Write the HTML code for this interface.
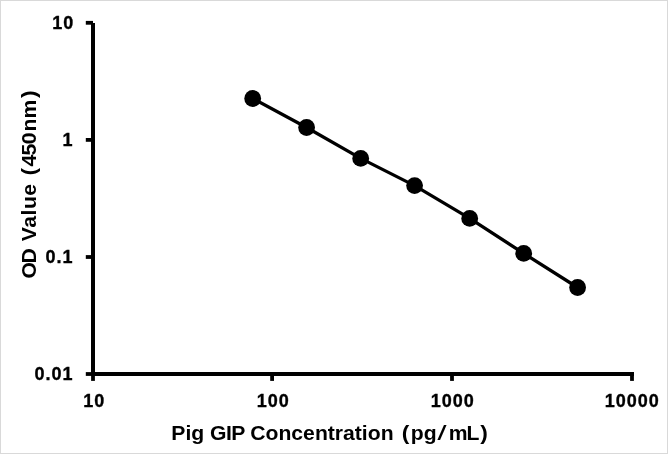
<!DOCTYPE html>
<html lang="en">
<head>
<meta charset="utf-8">
<title>Pig GIP ELISA standard curve</title>
<style>
html,body{margin:0;padding:0;background:#fff;}
body{width:668px;height:454px;overflow:hidden;}
svg{display:block;}
text{font-family:"Liberation Sans",Arial,Helvetica,sans-serif;font-weight:bold;fill:#000;}
.tk{font-size:18px;letter-spacing:1px;stroke:#000;stroke-width:0.35px;}
.tt{font-size:19.5px;}
.pr{font-size:21px;}
.sl{font-size:21px;font-style:italic;}
</style>
</head>
<body>
<svg width="668" height="454" viewBox="0 0 668 454">
  <rect x="0" y="0" width="668" height="454" fill="#ffffff"/>
  <rect x="0.5" y="0.5" width="667" height="453" fill="none" stroke="#d9d9d9" stroke-width="1"/>

  <!-- axes -->
  <g stroke="#000" stroke-width="4" fill="none">
    <line x1="93" y1="23" x2="93" y2="376"/>
    <line x1="91" y1="374" x2="634" y2="374"/>
  </g>
  <!-- y ticks -->
  <g stroke="#000" stroke-width="3.8" fill="none">
    <line x1="85.8" y1="22.8" x2="93" y2="22.8"/>
    <line x1="85.8" y1="139.9" x2="93" y2="139.9"/>
    <line x1="85.8" y1="257" x2="93" y2="257"/>
    <line x1="85.8" y1="374" x2="93" y2="374"/>
  </g>
  <!-- x ticks -->
  <g stroke="#000" stroke-width="3.8" fill="none">
    <line x1="93" y1="374" x2="93" y2="380.9"/>
    <line x1="272.1" y1="374" x2="272.1" y2="380.9"/>
    <line x1="452" y1="374" x2="452" y2="380.9"/>
    <line x1="632" y1="374" x2="632" y2="380.9"/>
  </g>

  <!-- y tick labels -->
  <g class="tk" text-anchor="end">
    <text x="74.4" y="28.6">10</text>
    <text x="73.6" y="145.7">1</text>
    <text x="73.6" y="262.8">0.1</text>
    <text x="73.6" y="379.8">0.01</text>
  </g>
  <!-- x tick labels -->
  <g class="tk" text-anchor="middle">
    <text x="94.3" y="406.7">10</text>
    <text x="273.2" y="406.7">100</text>
    <text x="452.8" y="406.7">1000</text>
    <text x="632.2" y="406.7">10000</text>
  </g>

  <!-- series -->
  <polyline fill="none" stroke="#000" stroke-width="3.3" stroke-linejoin="round"
    points="252.7,98.5 306.6,127.5 360.7,158.4 414.6,185.6 469.7,218.4 523.7,253.4 577.6,287.5"/>
  <g fill="#000">
    <circle cx="252.7" cy="98.5" r="8.4"/>
    <circle cx="306.6" cy="127.5" r="8.4"/>
    <circle cx="360.7" cy="158.4" r="8.4"/>
    <circle cx="414.6" cy="185.6" r="8.4"/>
    <circle cx="469.7" cy="218.4" r="8.4"/>
    <circle cx="523.7" cy="253.4" r="8.4"/>
    <circle cx="577.6" cy="287.5" r="8.4"/>
  </g>

  <!-- x axis title: Pig GIP Concentration (pg/mL) -->
  <text class="tt" transform="translate(0 440.2) scale(1.085 1)" y="0"><tspan x="157.92">Pig</tspan> <tspan x="193.63" letter-spacing="-0.49">GIP</tspan> <tspan x="230.68">Concentration</tspan> <tspan class="pr" x="370.3">(</tspan><tspan x="378.57" letter-spacing="0.13">pg</tspan><tspan class="sl" x="404.03">/</tspan><tspan x="413.59" letter-spacing="-0.92">mL</tspan><tspan class="pr" x="442.65">)</tspan></text>
  <!-- y axis title: OD Value (450nm) -->
  <text class="tt" transform="translate(36.2 277.6) rotate(-90) scale(1.085 1)" y="0"><tspan x="-0.75" letter-spacing="-1.45">OD</tspan> <tspan x="33.52" letter-spacing="0.49">Value</tspan> <tspan class="pr" x="94.03">(</tspan><tspan x="102.33" letter-spacing="-0.59">450</tspan><tspan x="134.6" letter-spacing="0.16">nm</tspan><tspan class="pr" x="165.46">)</tspan></text>
</svg>
</body>
</html>
